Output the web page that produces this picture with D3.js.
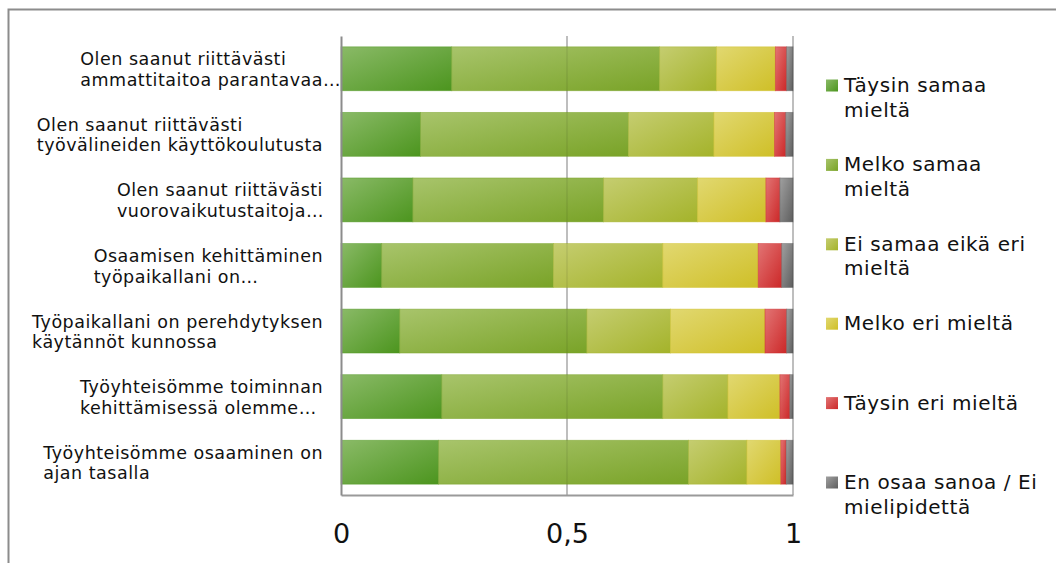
<!DOCTYPE html>
<html>
<head>
<meta charset="utf-8">
<script src="https://cdn.jsdelivr.net/npm/d3@7"></script>
<style>
  html, body { margin: 0; padding: 0; background: #fff; }
  svg { display: block; }
  text { font-family: "DejaVu Sans", Verdana, sans-serif; fill: #111; }
</style>
</head>
<body>
<svg id="chart" width="1056" height="563"></svg>
<script>
// Statements (line breaks mark where each label wraps)
const categories = [
  "Olen saanut riittävästi\nammattitaitoa parantavaa…",
  "Olen saanut riittävästi\ntyövälineiden käyttökoulutusta",
  "Olen saanut riittävästi\nvuorovaikutustaitoja…",
  "Osaamisen kehittäminen\ntyöpaikallani on…",
  "Työpaikallani on perehdytyksen\nkäytännöt kunnossa",
  "Työyhteisömme toiminnan\nkehittämisessä olemme…",
  "Työyhteisömme osaaminen on\najan tasalla"
];

// Answer options
const seriesNames = [
  "Täysin samaa\nmieltä",
  "Melko samaa\nmieltä",
  "Ei samaa eikä eri\nmieltä",
  "Melko eri mieltä",
  "Täysin eri mieltä",
  "En osaa sanoa / Ei\nmielipidettä"
];

// Share of answers per statement, one array per option
const taysinSamaa = [0.245, 0.176, 0.159, 0.090, 0.130, 0.223, 0.216];
const melkoSamaa  = [0.460, 0.460, 0.422, 0.380, 0.414, 0.489, 0.553];
const eiSamaaEiEri = [0.126, 0.189, 0.208, 0.242, 0.185, 0.144, 0.129];
const melkoEri    = [0.130, 0.134, 0.151, 0.211, 0.209, 0.115, 0.075];
const taysinEri   = [0.025, 0.025, 0.031, 0.052, 0.048, 0.022, 0.012];
const eiOsaa      = [0.014, 0.016, 0.029, 0.025, 0.014, 0.007, 0.015];

const tickValues = [0, 0.5, 1];

// Light / dark gradient stops for each option
const colorsLight = ["#8aba67", "#a8c46b", "#c5cd70", "#e1d870", "#e27474", "#a0a0a0"];
const colorsDark  = ["#4c951e", "#79a327", "#a4b32a", "#cfbf27", "#cc2828", "#5e5e5e"];

const seriesValues = [taysinSamaa, melkoSamaa, eiSamaaEiEri, melkoEri, taysinEri, eiOsaa];

const rows = categories.map((c, i) => {
  const r = { category: c };
  seriesNames.forEach((s, j) => { r[s] = seriesValues[j][i]; });
  return r;
});
const stacked = d3.stack().keys(seriesNames)(rows);

const svg = d3.select("#chart");

// Gradients
const defs = svg.append("defs");
seriesNames.forEach((s, j) => {
  const g = defs.append("linearGradient")
    .attr("id", "grad" + j)
    .attr("x1", 0).attr("y1", 0).attr("x2", 1).attr("y2", 1);
  g.append("stop").attr("offset", "0%").attr("stop-color", colorsLight[j]);
  g.append("stop").attr("offset", "100%").attr("stop-color", colorsDark[j]);
});

// Outer frame (top and left edges)
svg.append("path")
  .attr("d", "M8.5,563V9.5H1056")
  .attr("fill", "none")
  .attr("stroke", "#8c8c8c")
  .attr("stroke-width", 2);

const plot = { left: 341, right: 793, top: 36, bottom: 495 };

const x = d3.scaleLinear().domain([0, 1]).range([plot.left, plot.right]);
const y = d3.scaleBand().domain(categories)
  .range([plot.top, plot.bottom])
  .paddingInner(0.33).paddingOuter(0.165);

// Gridlines under the bars
const gridVals = tickValues.filter(v => v > 0);
svg.append("g").selectAll("line").data(gridVals).join("line")
  .attr("x1", d => x(d)).attr("x2", d => x(d))
  .attr("y1", plot.top).attr("y2", plot.bottom)
  .attr("stroke", "#cacaca").attr("stroke-width", 2);

// Stacked bars
svg.append("g").selectAll("g").data(stacked).join("g")
  .attr("fill", (d, j) => `url(#grad${j})`)
  .attr("stroke", (d, j) => colorsDark[j])
  .attr("stroke-opacity", 0.55)
  .attr("stroke-width", 0.8)
  .selectAll("rect").data(d => d).join("rect")
    .attr("x", d => x(d[0]))
    .attr("width", d => x(d[1]) - x(d[0]))
    .attr("y", d => y(d.data.category))
    .attr("height", y.bandwidth());

// Faint gridline showing through the bars
svg.append("g").selectAll("line").data(gridVals).join("line")
  .attr("x1", d => x(d)).attr("x2", d => x(d))
  .attr("y1", plot.top).attr("y2", plot.bottom)
  .attr("stroke", "#000").attr("stroke-opacity", 0.06).attr("stroke-width", 2);

// Axes
const fi = d3.formatLocale({ decimal: ",", thousands: " ", grouping: [3], currency: ["", " €"] });
const fmt = fi.format("~g");

const xAxis = svg.append("g")
  .attr("transform", `translate(0,${plot.bottom})`)
  .call(d3.axisBottom(x).tickValues(tickValues).tickFormat(fmt).tickSize(0).tickPadding(29));
xAxis.select(".domain").attr("stroke", "#9a9a9a").attr("stroke-width", 2);
xAxis.selectAll(".tick text")
  .attr("font-family", "DejaVu Sans, Verdana, sans-serif")
  .attr("font-size", 27)
  .attr("fill", "#111")
  .attr("dy", "0.71em");

const yAxis = svg.append("g")
  .attr("transform", `translate(${plot.left},0)`)
  .call(d3.axisLeft(y).tickSize(0).tickFormat(""));
yAxis.select(".domain").attr("stroke", "#8c8c8c").attr("stroke-width", 2);

// Category labels: lines left-aligned, block right-aligned next to the axis
// (a trailing ellipsis may hang past the block edge)
const labelRight = 323;
const labelG = svg.append("g");
const measure = labelG.append("text")
  .attr("font-size", 17.5).attr("letter-spacing", 0.5).attr("visibility", "hidden");
categories.forEach(c => {
  const lines = c.split("\n");
  const cy = y(c) + y.bandwidth() / 2;
  const w = d3.max(lines, ln => {
    measure.text(ln.replace(/…$/, ""));
    return measure.node().getComputedTextLength();
  });
  const t = labelG.append("text")
    .attr("font-size", 17.5)
    .attr("letter-spacing", 0.5);
  lines.forEach((ln, k) => {
    t.append("tspan").attr("x", labelRight - w).attr("y", cy - 3.5 + k * 20.5).text(ln);
  });
});
measure.remove();

// Legend
const ly = d3.scalePoint().domain(seriesNames).range([92, 489]);
const legend = svg.append("g").selectAll("g").data(seriesNames).join("g")
  .attr("transform", d => `translate(826,${ly(d)})`);
legend.append("rect")
  .attr("x", 0).attr("y", -12.5).attr("width", 12).attr("height", 12)
  .attr("fill", (d, j) => `url(#grad${j})`);
legend.append("text")
  .attr("font-size", 20)
  .attr("letter-spacing", 0.6)
  .selectAll("tspan").data(d => d.split("\n")).join("tspan")
    .attr("x", 18).attr("y", (d, k) => k * 24.5)
    .text(d => d);
</script>
</body>
</html>
